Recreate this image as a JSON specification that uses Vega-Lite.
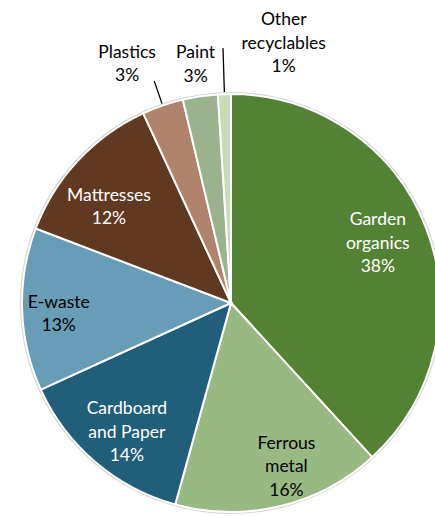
{
  "$schema": "https://vega.github.io/schema/vega-lite/v6.json",
  "width": 406,
  "height": 426,
  "autosize": {"type": "none"},
  "padding": {"left": 28, "top": 90, "right": 1, "bottom": 0},
  "background": "white",
  "config": {"view": {"stroke": null}, "text": {"font": "Lato", "fontSize": 17.5, "lineHeight": 23.5, "align": "center", "baseline": "middle", "lineBreak": "\n"}},
  "data": {"values": [
    {"category": "Garden organics", "label": "Garden\norganics\n38%", "value": 38.2, "rank": 1},
    {"category": "Ferrous metal", "label": "Ferrous\nmetal\n16%", "value": 16.1, "rank": 2},
    {"category": "Cardboard and Paper", "label": "Cardboard\nand Paper\n14%", "value": 13.9, "rank": 3},
    {"category": "E-waste", "label": "E-waste\n13%", "value": 12.6, "rank": 4},
    {"category": "Mattresses", "label": "Mattresses\n12%", "value": 12.3, "rank": 5},
    {"category": "Plastics", "label": "Plastics\n3%", "value": 3.2, "rank": 6},
    {"category": "Paint", "label": "Paint\n3%", "value": 2.7, "rank": 7},
    {"category": "Other recyclables", "label": "Other\nrecyclables\n1%", "value": 1.0, "rank": 8}
  ]},
  "encoding": {
    "theta": {"field": "value", "type": "quantitative", "stack": true},
    "order": {"field": "rank", "type": "quantitative"}
  },
  "layer": [
    {
      "mark": {"type": "arc", "outerRadius": 211, "fill": "#d4d4d4", "strokeWidth": 0}
    },
    {
      "mark": {"type": "arc", "outerRadius": 209, "stroke": "white", "strokeWidth": 2},
      "encoding": {
        "color": {
          "field": "category", "type": "nominal", "legend": null,
          "scale": {
            "domain": ["Garden organics", "Ferrous metal", "Cardboard and Paper", "E-waste", "Mattresses", "Plastics", "Paint", "Other recyclables"],
            "range": ["#548235", "#98BA82", "#215E79", "#679DB6", "#613820", "#B0846C", "#9BB28F", "#C5DEB5"]
          }
        }
      }
    },
    {
      "mark": {"type": "arc", "innerRadius": 211, "outerRadius": 235, "padAngle": 0.3, "filled": false, "stroke": "black", "strokeWidth": 1.3},
      "encoding": {"strokeOpacity": {"condition": {"test": "datum.category === 'Plastics'", "value": 1}, "value": 0}}
    },
    {
      "mark": {"type": "arc", "innerRadius": 211, "outerRadius": 255, "padAngle": 0.3, "filled": false, "stroke": "black", "strokeWidth": 1.3},
      "encoding": {"strokeOpacity": {"condition": {"test": "datum.category === 'Other recyclables'", "value": 1}, "value": 0}}
    },
    {
      "mark": {"type": "text", "radius": 157.5, "dy": -25.5, "fill": "white"},
      "encoding": {"text": {"condition": {"test": "datum.category === 'Garden organics'", "field": "label"}, "value": ""}}
    },
    {
      "mark": {"type": "text", "radius": 173, "dx": 15, "dy": -27.5, "fill": "#000000"},
      "encoding": {"text": {"condition": {"test": "datum.category === 'Ferrous metal'", "field": "label"}, "value": ""}}
    },
    {
      "mark": {"type": "text", "radius": 166.5, "dx": 4, "dy": -20.5, "fill": "white"},
      "encoding": {"text": {"condition": {"test": "datum.category === 'Cardboard and Paper'", "field": "label"}, "value": ""}}
    },
    {
      "mark": {"type": "text", "radius": 172.4, "dy": -5.75, "fill": "#000000"},
      "encoding": {"text": {"condition": {"test": "datum.category === 'E-waste'", "field": "label"}, "value": ""}}
    },
    {
      "mark": {"type": "text", "radius": 154.6, "dx": -9, "dy": -1.75, "fill": "white"},
      "encoding": {"text": {"condition": {"test": "datum.category === 'Mattresses'", "field": "label"}, "value": ""}}
    },
    {
      "mark": {"type": "text", "radius": 259.7, "dx": -19, "dy": -4.75, "fill": "#000000"},
      "encoding": {"text": {"condition": {"test": "datum.category === 'Plastics'", "field": "label"}, "value": ""}}
    },
    {
      "mark": {"type": "text", "radius": 240.7, "dy": -11.75, "fill": "#000000"},
      "encoding": {"text": {"condition": {"test": "datum.category === 'Paint'", "field": "label"}, "value": ""}}
    },
    {
      "mark": {"type": "text", "radius": 264.4, "dx": 61, "dy": -18.5, "fill": "#000000"},
      "encoding": {"text": {"condition": {"test": "datum.category === 'Other recyclables'", "field": "label"}, "value": ""}}
    }
  ]
}
